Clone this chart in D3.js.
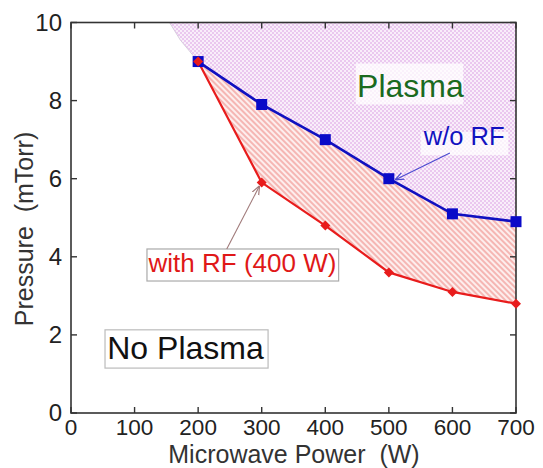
<!DOCTYPE html>
<html><head><meta charset="utf-8">
<script src="https://cdn.jsdelivr.net/npm/d3@7"></script>
<style>
html,body{margin:0;padding:0;background:#fff;}
svg{display:block;font-family:"Liberation Sans",Arial,sans-serif;}
text{white-space:pre;}
</style></head>
<body><svg id="chart" width="543" height="468"></svg>
<script>
// ---- data ----
const power = [200, 300, 400, 500, 600, 700];
const woRF = [9.0, 7.9, 7.0, 6.0, 5.1, 4.9];
const withRF = [9.0, 5.9, 4.8, 3.6, 3.1, 2.8];
const plasmaEdgePower = [155, 172, 200];
const plasmaEdgePressure = [10, 9.55, 9.0];
const xTicks = [0, 100, 200, 300, 400, 500, 600, 700];
const yTicks = [0, 2, 4, 6, 8, 10];

const svg = d3.select("#chart");
const L = 71, R = 516, T = 22.5, B = 413;
const x = d3.scaleLinear().domain([0, 700]).range([L, R]);
const y = d3.scaleLinear().domain([0, 10]).range([B, T]);

const defs = svg.append("defs");
const pc = defs.append("pattern").attr("id", "checker").attr("patternUnits", "userSpaceOnUse")
  .attr("width", 4).attr("height", 4);
pc.append("rect").attr("width", 4).attr("height", 4).attr("fill", "#f9eefa");
pc.append("rect").attr("width", 2).attr("height", 2).attr("fill", "#eac8ef");
pc.append("rect").attr("x", 2).attr("y", 2).attr("width", 2).attr("height", 2).attr("fill", "#eac8ef");
const ps = defs.append("pattern").attr("id", "stripes").attr("patternUnits", "userSpaceOnUse")
  .attr("width", 4).attr("height", 4).attr("patternTransform", "rotate(-45)");
ps.append("rect").attr("width", 4).attr("height", 4).attr("fill", "#fdeeed");
ps.append("rect").attr("width", 2).attr("height", 4).attr("fill", "#f5b6b3");
const arrowDefs = [["arrBlue", "#4a4ad0"], ["arrRed", "#a07a7a"]];
arrowDefs.forEach(([id, c]) => {
  defs.append("marker").attr("id", id).attr("viewBox", "0 0 10 10").attr("refX", 9).attr("refY", 5)
    .attr("markerWidth", 9).attr("markerHeight", 9).attr("orient", "auto").attr("markerUnits", "userSpaceOnUse")
    .append("path").attr("d", "M0,1 L10,5 L0,9").attr("fill", "none").attr("stroke", c).attr("stroke-width", 1.3);
});

const blue = power.map((p, i) => [p, woRF[i]]);
const red = power.map((p, i) => [p, withRF[i]]);
const edge = plasmaEdgePower.map((p, i) => [p, plasmaEdgePressure[i]]);
const line = d3.line().x(d => x(d[0])).y(d => y(d[1]));

const purplePts = edge.concat(blue.slice(1)).concat([[700, 10]]);
svg.append("path").attr("d", line(purplePts) + "Z").attr("fill", "url(#checker)");
const redPts = blue.concat(red.slice().reverse());
svg.append("path").attr("d", line(redPts) + "Z").attr("fill", "url(#stripes)");
svg.append("path").attr("d", line(edge)).attr("fill", "none").attr("stroke", "#d8cede").attr("stroke-width", 1);

// frame
const frame = "#333";
svg.append("rect").attr("x", L).attr("y", T).attr("width", R - L).attr("height", B - T)
  .attr("fill", "none").attr("stroke", frame).attr("stroke-width", 1.6);
const tk = 6;
const ax = svg.append("g").attr("stroke", frame).attr("stroke-width", 1.4);
xTicks.forEach(v => {
  ax.append("line").attr("x1", x(v)).attr("x2", x(v)).attr("y1", B).attr("y2", B - tk);
  ax.append("line").attr("x1", x(v)).attr("x2", x(v)).attr("y1", T).attr("y2", T + tk);
});
yTicks.forEach(v => {
  ax.append("line").attr("x1", L).attr("x2", L + tk).attr("y1", y(v)).attr("y2", y(v));
  ax.append("line").attr("x1", R).attr("x2", R - tk).attr("y1", y(v)).attr("y2", y(v));
});
svg.append("g").selectAll("text").data(xTicks).join("text")
  .attr("x", d => x(d)).attr("y", 435).attr("text-anchor", "middle")
  .attr("font-size", 22.5).attr("fill", "#222").text(d => d);
svg.append("g").selectAll("text").data(yTicks).join("text")
  .attr("x", 62).attr("y", d => y(d) + 8).attr("text-anchor", "end")
  .attr("font-size", 24).attr("fill", "#222").text(d => d);
svg.append("text").attr("x", 294).attr("y", 463).attr("text-anchor", "middle")
  .attr("font-size", 25).attr("fill", "#333").text("Microwave Power  (W)");
svg.append("text").attr("transform", `translate(33,229) rotate(-90)`).attr("text-anchor", "middle")
  .attr("font-size", 25).attr("fill", "#333").text("Pressure  (mTorr)");

// lines
svg.append("path").attr("d", line(blue)).attr("fill", "none").attr("stroke", "#1010c0").attr("stroke-width", 2.6);
svg.append("path").attr("d", line(red)).attr("fill", "none").attr("stroke", "#e81c1c").attr("stroke-width", 2.2);
svg.append("g").selectAll("rect").data(blue).join("rect")
  .attr("x", d => x(d[0]) - 5.5).attr("y", d => y(d[1]) - 5.5).attr("width", 11).attr("height", 11)
  .attr("fill", "#0a0ac8");
svg.append("g").selectAll("path").data(red).join("path")
  .attr("transform", d => `translate(${x(d[0])},${y(d[1])})`)
  .attr("d", "M0,-5 L5,0 L0,5 L-5,0Z").attr("fill", "#e81c1c");

// annotations
function box(x0, y0, x1, y1, stroke) {
  svg.append("rect").attr("x", x(x0)).attr("y", y(y0)).attr("width", x(x1) - x(x0)).attr("height", y(y1) - y(y0))
    .attr("fill", "#fff").attr("fill-opacity", stroke ? 1 : 0.75).attr("stroke", stroke || "none").attr("stroke-width", 1.2);
}
box(448, 8.95, 617, 7.9, null);
svg.append("text").attr("x", x(450)).attr("y", y(8.09)).attr("font-size", 32).attr("fill", "#1b6a1f").text("Plasma");
box(550, 7.2, 688, 6.6, null);
svg.append("text").attr("x", x(555)).attr("y", y(6.86)).attr("font-size", 25.5).attr("fill", "#1212c0").text("w/o RF");
svg.append("line").attr("x1", x(596)).attr("y1", y(6.66)).attr("x2", x(511)).attr("y2", y(5.98))
  .attr("stroke", "#4a4ad0").attr("stroke-width", 1.1).attr("marker-end", "url(#arrBlue)");

box(119.5, 4.2, 421, 3.38, "#aaa");
svg.append("text").attr("x", x(122)).attr("y", y(3.6)).attr("font-size", 26).attr("fill", "#e01818").text("with RF (400 W)");
svg.append("line").attr("x1", x(245)).attr("y1", y(4.2)).attr("x2", x(296)).attr("y2", y(5.8))
  .attr("stroke", "#a07a7a").attr("stroke-width", 1.1).attr("marker-end", "url(#arrRed)");

box(53.5, 2.13, 310, 1.15, "#bbb");
svg.append("text").attr("x", x(57)).attr("y", y(1.39)).attr("font-size", 32).attr("fill", "#111").text("No Plasma");
</script></body></html>
